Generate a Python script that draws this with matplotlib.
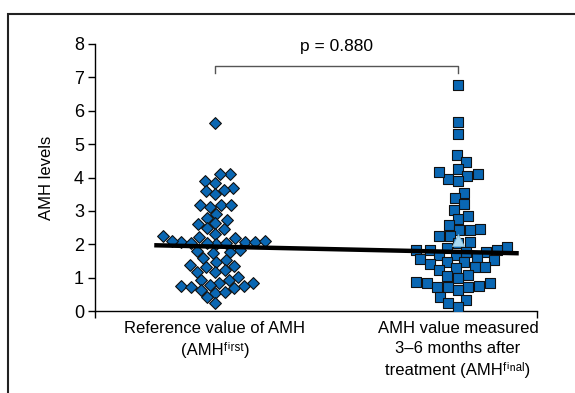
import matplotlib
matplotlib.use("Agg")
import matplotlib.pyplot as plt
import numpy as np
import pandas as pd
import seaborn as sns
from matplotlib.patches import Rectangle

plt.rcParams['font.family'] = ['Liberation Sans Narrow', 'Liberation Sans', 'DejaVu Sans']

categories = ["Reference value of AMH\n(AMH\u1da0\u2071\u02b3\u02e2\u1d57)",
              "AMH value measured\n3\u20136 months after\ntreatment (AMH\u1da0\u2071\u207f\u1d43\u02e1)"]

amh_first = [5.64, 4.10, 4.09, 3.90, 3.84, 3.68, 3.64, 3.59, 3.50, 3.17, 3.19, 3.18, 3.13,
             2.92, 2.72, 2.80, 2.64, 2.60, 2.48, 2.45, 2.31, 2.18, 2.25, 2.21, 2.00, 2.07,
             2.07, 2.03, 2.05, 2.07, 2.10, 2.10, 2.03, 1.80, 1.73, 1.83, 1.78, 1.53, 1.58,
             1.46, 1.38, 1.23, 1.18, 1.18, 1.31, 1.36, 0.93, 1.01, 0.93, 0.85, 0.85, 0.75,
             0.75, 0.78, 0.73, 0.68, 0.55, 0.63, 0.56, 0.41, 0.25]

amh_final = [6.77, 5.65, 5.29, 4.66, 4.47, 4.25, 4.04, 4.09, 3.97, 4.17, 3.89, 3.55, 3.39,
             3.20, 3.04, 2.75, 2.84, 2.57, 2.45, 2.43, 2.43, 2.25, 2.25, 2.07, 2.04, 1.93,
             1.88, 1.83, 1.83, 1.78, 1.83, 1.78, 1.68, 1.68, 1.63, 1.55, 1.48, 1.53, 1.48,
             1.40, 1.28, 1.33, 1.33, 1.23, 1.08, 1.05, 0.98, 0.88, 0.83, 0.83, 0.73, 0.71,
             0.75, 0.71, 0.63, 0.43, 0.33, 0.23, 0.13]

trend_line = [1.97, 1.73]       # values at left and right ends of the black line
mean_marker_final = 2.12
p_text = "p = 0.880"
y_ticks = [0, 1, 2, 3, 4, 5, 6, 7, 8]

fig = plt.figure(figsize=(5.75, 3.93), dpi=100)
ax = fig.add_axes([95/575, (393-311)/393, (537-95)/575, (311-44)/393])

df = pd.DataFrame({
    "g": ["A"] * len(amh_first) + ["B"] * len(amh_final),
    "v": amh_first + amh_final,
})
blue = "#0a67b3"
sns.swarmplot(data=df[df.g == "A"], x="g", y="v", order=["A", "B"], marker="D",
              size=7.6, color=blue, edgecolor="#111111", linewidth=0.8, ax=ax, zorder=3)
sns.swarmplot(data=df[df.g == "B"], x="g", y="v", order=["A", "B"], marker="s",
              size=6.6, color=blue, edgecolor="#111111", linewidth=0.8, ax=ax, zorder=3)
for coll, s in zip(ax.collections, [6.0, 7.2]):
    coll.set_sizes([s ** 2])

ax.plot([-0.25, 1.25], trend_line, color="black", lw=3.2, zorder=4, solid_capstyle="butt")
ax.plot([1.0], [mean_marker_final], marker="^", ms=8, color="#a9d9f2",
        markeredgecolor="#7fb8d8", markeredgewidth=0.6, zorder=6)

# significance bracket
ax.plot([0, 0, 1, 1], [7.13, 7.34, 7.34, 7.13], color="#555555", lw=1.0, zorder=2)
ax.text(0.5, 7.93, p_text, ha="center", va="center", fontsize=12.5)

ax.set_xlim((95 - 215) / 243, (537 - 215) / 243)
ax.set_ylim(0, 8)
ax.set_yticks(y_ticks)
ax.tick_params(axis="y", labelsize=13, length=5, width=1.0, direction="out", pad=3)
ax.set_xticks([0, 1])
ax.set_xticklabels(categories, fontsize=12, va="top", linespacing=1.45,
                   family=['Liberation Sans Narrow', 'Liberation Sans', 'DejaVu Sans'])
ax.tick_params(axis="x", length=0, pad=7)
ax.set_xticks([(95 - 215) / 243, (537 - 215) / 243], minor=True)
ax.tick_params(axis="x", which="minor", length=5, width=1.0, direction="out")
ax.set_xlabel("")
ax.set_ylabel("AMH levels", fontsize=12, labelpad=14)
for side in ["top", "right"]:
    ax.spines[side].set_visible(False)
for side in ["left", "bottom"]:
    ax.spines[side].set_linewidth(1.0)

frame = Rectangle((8/575, -0.2), 1.2, (393 - 14)/393 + 0.2, transform=fig.transFigure,
                  fill=False, edgecolor="#222222", lw=1.5)
fig.patches.append(frame)

fig.savefig("out.png", dpi=100)
